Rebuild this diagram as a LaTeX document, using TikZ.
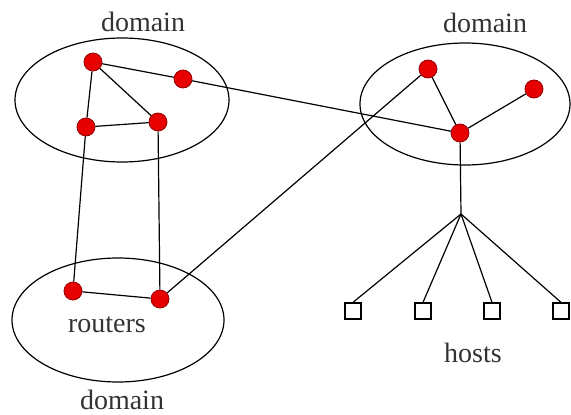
\documentclass[tikz,border=0pt]{standalone}
\usepackage{fontspec}
\setmainfont{Liberation Serif}
\tikzset{
  router/.style={circle, fill={rgb,255:red,230;green,0;blue,0}, draw={rgb,255:red,150;green,0;blue,0}, line width=0.8pt, minimum size=18pt, inner sep=0pt},
  hostbox/.style={rectangle, draw=black, line width=1.3pt, fill=white, minimum size=16pt, inner sep=0pt},
  label/.style={font=\fontsize{28}{30}\selectfont, text=black!80, inner sep=0pt}
}
\begin{document}
\begin{tikzpicture}[x=1pt,y=1pt,yscale=-1,xscale=1,line width=1.2pt]
\useasboundingbox (0,0) rectangle (571,415);

%Shape: Ellipse [domains]
\draw (122,100) ellipse [x radius=107, y radius=62];
\draw (465,104) ellipse [x radius=105, y radius=61];
\draw (118,320) ellipse [x radius=106, y radius=62];

% Router Nodes
\node [router] (a) at (93,62) {};
\node [router] (b) at (183,79) {};
\node [router] (c) at (86,127) {};
\node [router] (d) at (158,122) {};
\node [router] (e) at (428,69) {};
\node [router] (f) at (534,89) {};
\node [router] (g) at (460,133) {};
\node [router] (h) at (73,291) {};
\node [router] (i) at (160,299) {};
\coordinate (hub) at (461,214);

% Host Nodes
\foreach \x [count=\n] in {353,423,492,561}
  \node [hostbox] (host\n) at (\x,311) {};

% Links
\draw (a) -- (b) -- (g);
\draw (a) -- (d) -- (c) -- (a);
\draw (c) -- (h) -- (i) -- (d);
\draw (i) -- (e) -- (g) -- (f);
\draw (g) -- (hub);
\foreach \n in {1,...,4}
  \draw (hub) -- (host\n.north);

% Text Node
\node [label] (dom1) at (143,22) {domain};
\node [label] (dom2) at (485,23) {domain};
\node [label] (dom3) at (122,400) {domain};
\node [label] (rtr) at (107,325) {routers};
\node [label] (hst) at (473,353) {hosts};

\end{tikzpicture}
\end{document}
